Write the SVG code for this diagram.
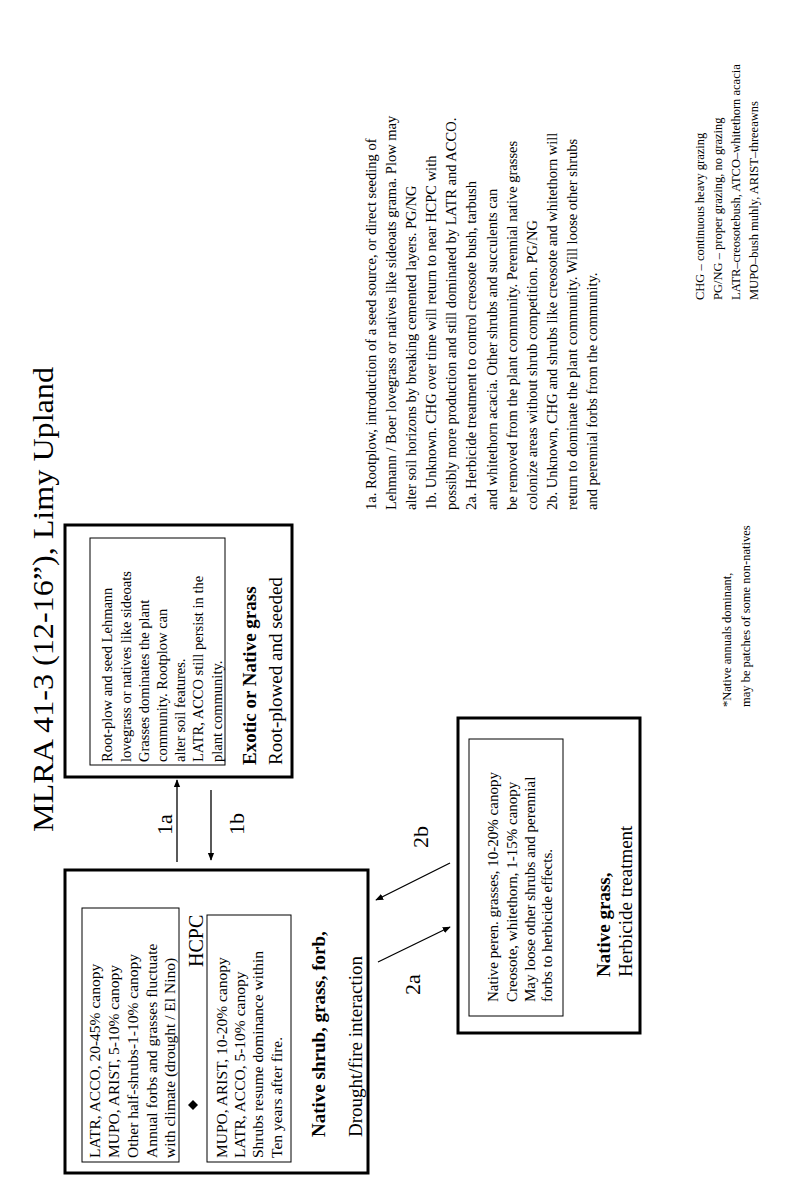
<svg xmlns="http://www.w3.org/2000/svg" width="800" height="1194" viewBox="0 0 800 1194">
<style>
text{font-family:"Liberation Serif","Times New Roman",serif;fill:#000}
.outer{fill:#fff;stroke:#000;stroke-width:3}
.inner{fill:#fff;stroke:#000;stroke-width:1}
.s{font-size:14.5px}
.m{font-size:15.5px}
.g{font-size:15px}
.h{font-size:19px}
.b{font-weight:bold}
.n{font-size:14.5px}
.l{font-size:12.5px}
.c{stroke:#000;stroke-width:1.3;fill:none;marker-end:url(#ah)}
</style>
<defs>
<marker id="ah" viewBox="0 0 10 10" refX="9" refY="5" markerWidth="8" markerHeight="8" orient="auto" markerUnits="userSpaceOnUse"><path d="M0,1 L10,5 L0,9 z" fill="#000"/></marker>
</defs>
<rect width="800" height="1194" fill="#fff"/>
<g transform="translate(0,1194) rotate(-90)">
<text id="title" x="362" y="53" font-size="30" textLength="465" lengthAdjust="spacingAndGlyphs">MLRA 41-3 (12-16”), Limy Upland</text>
<g id="exotic">
<rect class="outer" x="417" y="65" width="252" height="227"/>
<rect class="inner" x="429" y="90" width="227" height="135"/>
<text class="s" x="432" y="112">Root-plow and seed Lehmann</text>
<text class="s" x="432" y="131">lovegrass or natives like sideoats</text>
<text class="s" x="432" y="149">Grasses dominates the plant</text>
<text class="s" x="432" y="167">community. Rootplow can</text>
<text class="s" x="432" y="185">alter soil features.</text>
<text class="s" x="432" y="203">LATR, ACCO still persist in the</text>
<text class="s" x="432" y="222">plant community.</text>
<text class="h b" x="429" y="256">Exotic or Native grass</text>
<text class="h" x="429" y="282">Root-plowed and seeded</text>
</g>
<g id="hcpc">
<rect class="outer" x="21" y="65" width="303" height="303"/>
<rect class="inner" x="32" y="82" width="254" height="97"/>
<text class="m" x="36" y="100">LATR, ACCO, 20-45%  canopy</text>
<text class="m" x="36" y="119">MUPO, ARIST, 5-10% canopy</text>
<text class="m" x="36" y="138">Other half-shrubs-1-10% canopy</text>
<text class="m" x="36" y="157">Annual forbs and grasses fluctuate</text>
<text class="m" x="36" y="175">with climate (drought / El Nino)</text>
<path d="M84,193 L89,188 L94,193 L89,198 z" fill="#000"/>
<text x="227" y="203" font-size="20">HCPC</text>
<rect class="inner" x="32" y="207" width="247" height="84"/>
<text class="m" x="36" y="227">MUPO, ARIST, 10-20% canopy</text>
<text class="m" x="36" y="245">LATR, ACCO, 5-10% canopy</text>
<text class="m" x="36" y="263">Shrubs resume dominance within</text>
<text class="m" x="36" y="282">Ten years after fire.</text>
<text class="h b" x="57" y="325">Native shrub, grass, forb,</text>
<text class="h" x="57" y="362">Drought/fire interaction</text>
</g>
<g id="herbicide">
<rect class="outer" x="161" y="458" width="315" height="182"/>
<rect class="inner" x="178" y="469" width="277" height="94"/>
<text class="g" x="192" y="498">Native peren. grasses, 10-20% canopy</text>
<text class="g" x="192" y="517">Creosote, whitethorn, 1-15% canopy</text>
<text class="g" x="192" y="535">May loose other shrubs and perennial</text>
<text class="g" x="192" y="552">forbs to herbicide effects.</text>
<text class="h b" x="217" y="610" font-size="20">Native grass,</text>
<text class="h" x="217" y="632" font-size="20">Herbicide treatment</text>
</g>
<g id="connectors">
<line class="c" x1="332" y1="177" x2="414" y2="177"/>
<line class="c" x1="404" y1="211" x2="334" y2="211"/>
<line class="c" x1="232" y1="378" x2="267" y2="450"/>
<line class="c" x1="331" y1="450" x2="294" y2="376"/>
<text x="359" y="172" font-size="22">1a</text>
<text x="359" y="244" font-size="22">1b</text>
<text x="199" y="420" font-size="22">2a</text>
<text x="346" y="428" font-size="22">2b</text>
</g>
<g id="notes">
<text class="n" x="684" y="376">1a. Rootplow, introduction of a seed source, or direct seeding of</text>
<text class="n" x="684" y="396">Lehmann / Boer lovegrass or natives like sideoats grama. Plow may</text>
<text class="n" x="684" y="416">alter soil horizons by breaking cemented layers. PG/NG</text>
<text class="n" x="684" y="436">1b. Unknown. CHG over time will return to near HCPC with</text>
<text class="n" x="684" y="456">possibly more production and still dominated by LATR and ACCO.</text>
<text class="n" x="684" y="476">2a. Herbicide treatment to control creosote bush, tarbush</text>
<text class="n" x="684" y="497">and whitethorn acacia. Other shrubs and succulents can</text>
<text class="n" x="684" y="517">be removed from the plant community. Perennial native grasses</text>
<text class="n" x="684" y="537">colonize areas without shrub competition. PG/NG</text>
<text class="n" x="684" y="557">2b. Unknown, CHG and shrubs like creosote and whitethorn will</text>
<text class="n" x="684" y="577">return to dominate the plant community. Will loose other shrubs</text>
<text class="n" x="684" y="597">and perennial forbs from the community.</text>
</g>
<g id="legend">
<text class="l" x="487" y="731">*Native annuals dominant,</text>
<text class="l" x="487" y="750">may be patches of some non-natives</text>
<text class="l" x="894" y="704">CHG – continuous heavy grazing</text>
<text class="l" x="894" y="722">PG/NG – proper grazing, no grazing</text>
<text class="l" x="894" y="740">LATR–creosotebush, ATCO–whitethorn acacia</text>
<text class="l" x="894" y="758">MUPO–bush muhly, ARIST–threeawns</text>
</g>
</g>
</svg>
